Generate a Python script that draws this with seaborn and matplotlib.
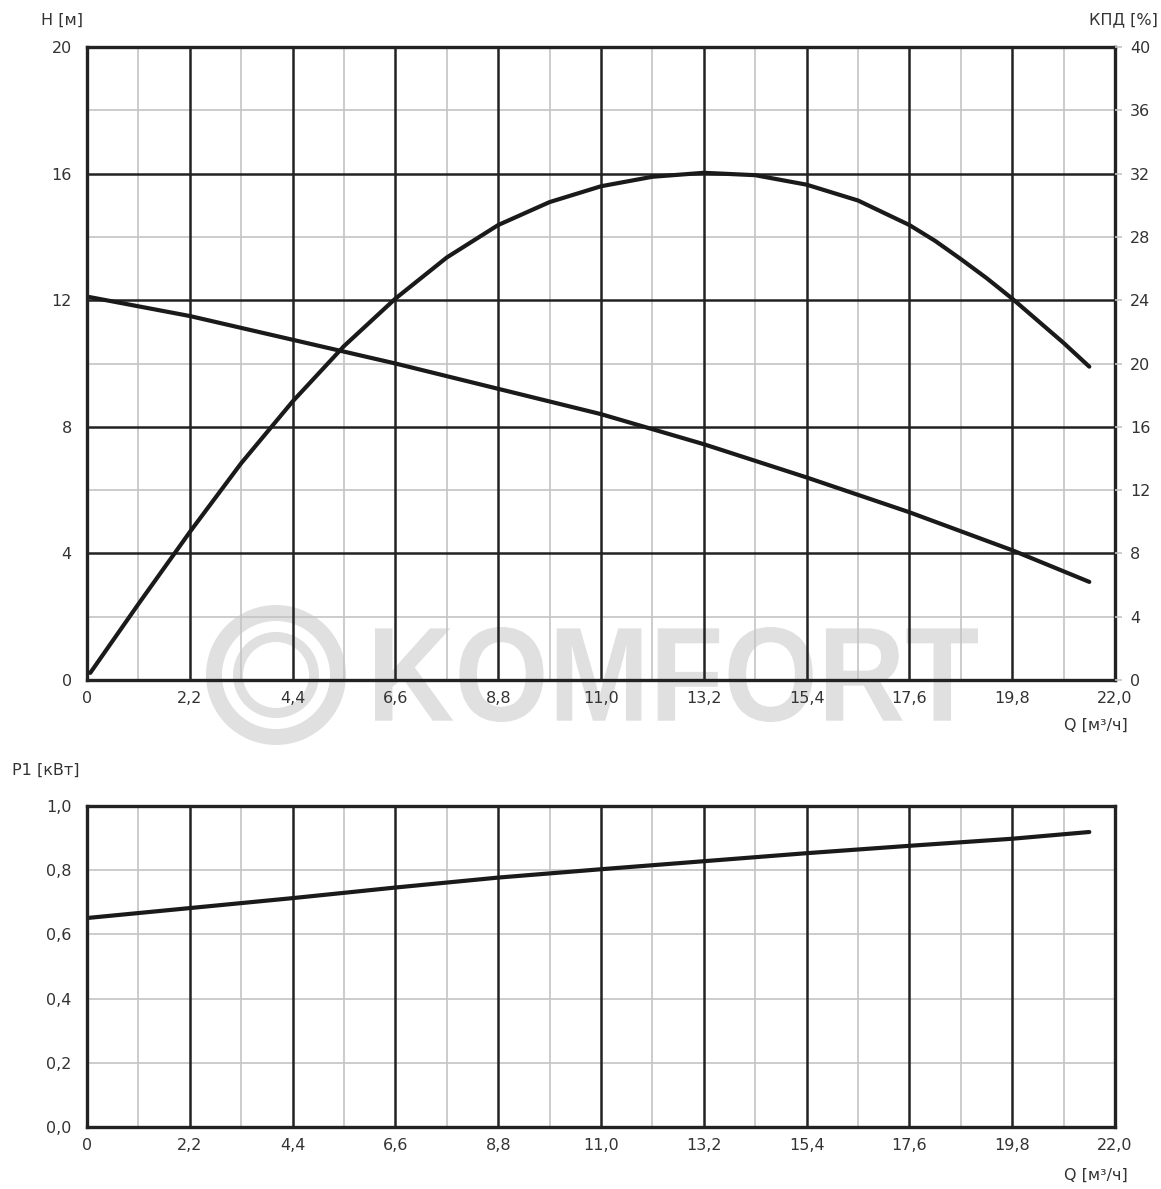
import numpy as np
import pandas as pd
import matplotlib
matplotlib.use("Agg")
import matplotlib.pyplot as plt
import seaborn as sns
from matplotlib.textpath import TextPath
from matplotlib.patches import PathPatch, Wedge
from matplotlib.font_manager import FontProperties
from matplotlib.transforms import Affine2D

# ---- data ----
q_head = [0.05, 2.2, 4.4, 6.6, 8.8, 11.0, 13.2, 15.4, 17.6, 19.8, 21.45]
head_m = [12.1, 11.5, 10.75, 10.0, 9.2, 8.4, 7.45, 6.4, 5.3, 4.1, 3.1]

q_eff = [0.07, 1.1, 2.2, 3.3, 4.4, 5.5, 6.6, 7.7, 8.8, 9.9, 11.0, 12.1, 13.2,
         14.3, 15.4, 16.5, 17.6, 18.15, 18.7, 19.25, 19.8, 20.35, 20.9, 21.45]
eff_pct = [0.45, 4.8, 9.35, 13.7, 17.6, 21.1, 24.1, 26.7, 28.75, 30.2, 31.2, 31.8,
           32.05, 31.9, 31.3, 30.3, 28.75, 27.75, 26.6, 25.4, 24.1, 22.7, 21.3, 19.8]

q_pow = [0.0, 2.2, 4.4, 6.6, 8.8, 11.0, 13.2, 15.4, 17.6, 19.8, 21.45]
p1_kw = [0.651, 0.682, 0.713, 0.746, 0.777, 0.803, 0.828, 0.853, 0.876, 0.898, 0.919]

x_ticks = [0, 2.2, 4.4, 6.6, 8.8, 11.0, 13.2, 15.4, 17.6, 19.8, 22.0]
x_labels = ["0", "2,2", "4,4", "6,6", "8,8", "11,0", "13,2", "15,4", "17,6", "19,8", "22,0"]
h_ticks = [0, 4, 8, 12, 16, 20]
eff_ticks = [0, 4, 8, 12, 16, 20, 24, 28, 32, 36, 40]
p_ticks = [0.0, 0.2, 0.4, 0.6, 0.8, 1.0]
p_labels = ["0,0", "0,2", "0,4", "0,6", "0,8", "1,0"]

sns.set_theme(style="white")
plt.rcParams['font.family'] = ['DejaVu Sans']

W, H = 1161, 1189
fig = plt.figure(figsize=(W / 100, H / 100), dpi=100)

TXT = "#333333"
MAJ = "#222222"
MIN = "#c4c4c4"
WM = "#e0e0e0"
FS = 11.5

# ---- watermark (behind everything) ----
px = Affine2D().scale(1 / W, 1 / H) + fig.transFigure
cx, cy = 276, H - 675
fig.add_artist(Wedge((cx, cy), 70, 0, 360, width=16, transform=px,
                     facecolor=WM, edgecolor="none", zorder=-1))
fig.add_artist(Wedge((cx, cy), 43, 0, 360, width=10, transform=px,
                     facecolor=WM, edgecolor="none", zorder=-1))
tp = TextPath((0, 0), "KOMFORT", size=100,
              prop=FontProperties(family="Liberation Sans", weight="bold"))
bb = tp.get_extents()
tr = (Affine2D().translate(-bb.x0, -bb.y0)
      .scale((978 - 375) / bb.width, (722 - 627) / bb.height)
      .translate(375, H - 722)) + px
fig.add_artist(PathPatch(tp, transform=tr, facecolor=WM, edgecolor="none", zorder=-1))


def frac(l, t, r, b):
    return [l / W, 1 - b / H, (r - l) / W, (b - t) / H]

ax = fig.add_axes(frac(87, 47, 1115, 680))
ax2 = fig.add_axes(frac(87, 806, 1115, 1127))

for a in (ax, ax2):
    a.patch.set_alpha(0)
    a.set_xlim(0, 22)
    for s in a.spines.values():
        s.set_color(MAJ)
        s.set_linewidth(2.4)
        s.set_zorder(5)
    for i in range(1, 20):
        xv = i * 1.1
        if i % 2 == 0:
            a.axvline(xv, color=MAJ, lw=1.8, zorder=2)
        else:
            a.axvline(xv, color=MIN, lw=1.2, zorder=1)
    a.set_xticks(x_ticks)
    a.set_xticklabels(x_labels)
    a.tick_params(axis="x", length=0, pad=8, labelsize=FS, labelcolor=TXT)
    a.tick_params(axis="y", length=0, pad=11, labelsize=FS, labelcolor=TXT)

# --- top chart ---
ax.set_ylim(0, 20)
for yv in range(2, 20, 2):
    if yv % 4 == 0:
        ax.axhline(yv, color=MAJ, lw=1.8, zorder=2)
    else:
        ax.axhline(yv, color=MIN, lw=1.2, zorder=1)
ax.set_yticks(h_ticks)
ax.set_yticklabels([str(v) for v in h_ticks])

df_h = pd.DataFrame({"Q": q_head, "H": head_m})
sns.lineplot(data=df_h, x="Q", y="H", ax=ax, color="#1a1a1a", lw=3.0,
             zorder=4, solid_capstyle="round", solid_joinstyle="round")
ax.set_xlabel("")
ax.set_ylabel("")

axr = ax.twinx()
axr.patch.set_alpha(0)
axr.set_ylim(0, 40)
axr.set_yticks(eff_ticks)
axr.set_yticklabels([str(v) for v in eff_ticks])
axr.tick_params(axis="y", length=5, width=1.2, color=MIN, pad=6, labelsize=FS, labelcolor=TXT)
for s in axr.spines.values():
    s.set_visible(False)
df_e = pd.DataFrame({"Q": q_eff, "E": eff_pct})
sns.lineplot(data=df_e, x="Q", y="E", ax=axr, color="#1a1a1a", lw=3.0,
             zorder=4, solid_capstyle="round", solid_joinstyle="round")
axr.set_xlabel("")
axr.set_ylabel("")
axr.set_xlim(0, 22)

# --- bottom chart ---
ax2.set_ylim(0, 1.0)
for yv in [0.2, 0.4, 0.6, 0.8]:
    ax2.axhline(yv, color=MIN, lw=1.2, zorder=1)
ax2.set_yticks(p_ticks)
ax2.set_yticklabels(p_labels)
df_p = pd.DataFrame({"Q": q_pow, "P": p1_kw})
sns.lineplot(data=df_p, x="Q", y="P", ax=ax2, color="#1a1a1a", lw=3.0,
             zorder=4, solid_capstyle="round", solid_joinstyle="round")
ax2.set_xlabel("")
ax2.set_ylabel("")

# axis titles
fig.text(62 / W, 1 - 20 / H, "H [м]", fontsize=FS, color=TXT, ha="center", va="center")
fig.text(1158 / W, 1 - 20 / H, "КПД [%]", fontsize=FS, color=TXT, ha="right", va="center")
fig.text(1128 / W, 1 - 725 / H, "Q [м³/ч]", fontsize=FS, color=TXT, ha="right", va="center")
fig.text(12 / W, 1 - 770 / H, "P1 [кВт]", fontsize=FS, color=TXT, ha="left", va="center")
fig.text(1128 / W, 1 - 1175 / H, "Q [м³/ч]", fontsize=FS, color=TXT, ha="right", va="center")

fig.savefig("out.png", dpi=100, facecolor="white")
